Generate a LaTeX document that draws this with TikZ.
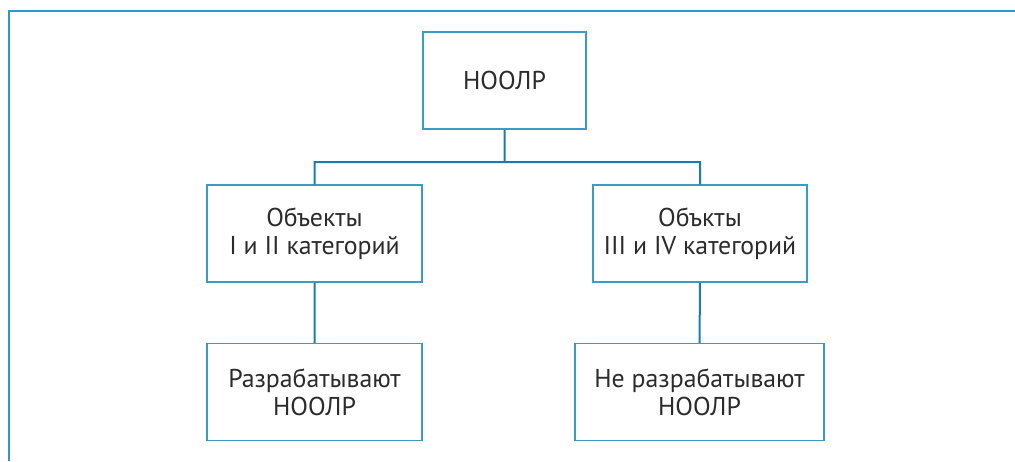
\documentclass[tikz,border=0pt]{standalone}
\usepackage{fontspec}
\setmainfont{PT Sans}
\usepackage{tikz}
\usetikzlibrary{positioning}

\definecolor{frameblue}{HTML}{2E98CC}
\definecolor{boxblue}{HTML}{3A9BC9}
\definecolor{lineblue}{HTML}{1A7BB2}
\definecolor{textgray}{HTML}{2B2B2B}

\begin{document}
\begin{tikzpicture}[x=1pt,y=-1pt,thick,
  cat node/.style={rectangle,draw=boxblue,line width=1.5pt,inner sep=0pt,
    minimum height=97pt,align=center,text=textgray,
    font=\fontsize{25.8}{28}\selectfont},
  link/.style={draw=lineblue,line width=2pt}]

  \useasboundingbox (0,0) rectangle (1015,461);
  % frame
  \draw[frameblue,line width=1.5pt] (1015,11) -- (9,11);
  \draw[frameblue,line width=2pt] (9,10.25) -- (9,461);

  \node[cat node,minimum width=163pt] (noolr) at (504.5,80.5) {НООЛР};
  \node[cat node,minimum width=215pt] (cat12) at (314.5,233.5) {Объекты\\I и II категорий};
  \node[cat node,minimum width=214pt] (cat34) at (700,233.5) {Объкты\\III и IV категорий};
  \node[cat node,minimum width=215pt] (dev) at (314.5,392) {Разрабатывают\\НООЛР};
  \node[cat node,minimum width=249pt] (nodev) at (699.5,392) {Не разрабатывают\\НООЛР};

  \coordinate (fork) at (504.5,162);
  \path[link] (noolr) -- (fork)
    (cat12.north) |- (fork) -| (cat34.north)
    (cat12) -- (dev)
    (cat34) -- (nodev);

\end{tikzpicture}
\end{document}
